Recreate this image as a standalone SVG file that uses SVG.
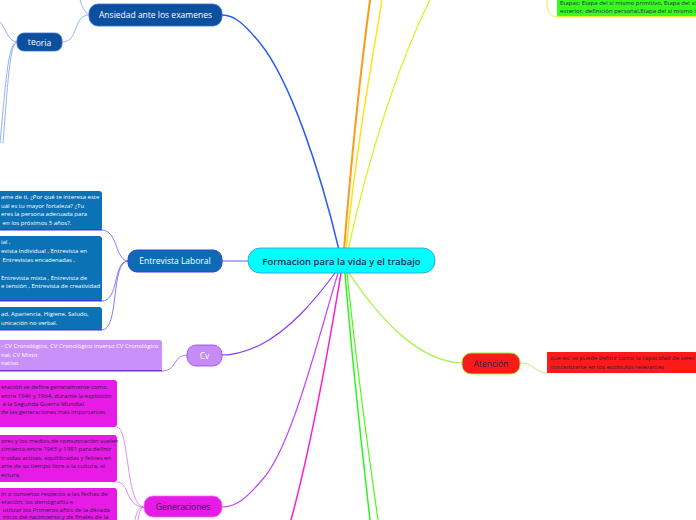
<svg xmlns="http://www.w3.org/2000/svg" width="696" height="520" viewBox="0 0 696 520">
<style>
.t{font-family:"Open Sans","Noto Sans",sans-serif;}
.node{font-size:8.5px;text-anchor:middle;}
.w{fill:#ffffff;}
.d{fill:#2a1f3d;}
.small{font-size:6px;}
.c{fill:none;stroke-linecap:round;}
</style>
<rect width="696" height="520" fill="#ffffff"/>
<g id="connectors" class="c">
  <path d="M344,250 C352,150 362,60 370,0" stroke="#FF9A1A" stroke-width="2"/>
  <path d="M346,250 C356,150 372,60 382,0" stroke="#FFE21A" stroke-width="1.5"/>
  <path d="M348,250 C370,150 400,60 430,0" stroke="#D4F51A" stroke-width="1.2"/>
  <path d="M547,0 C546,10 550,17 557,17" stroke="#E4F040" stroke-width="1"/>
  <path d="M339,250 C320,170 290,80 260,43 C245,25 235,15 222,15" stroke="#2A5CF0" stroke-width="1.5"/>
  <path d="M89,15 C84,12 82,6 80,0" stroke="#7A9CF5" stroke-width="0.8"/>
  <path d="M62,42 C80,42 72,15 89,15" stroke="#7A9CF5" stroke-width="0.8"/>
  <path d="M17,42 C8,42 6,28 0,22" stroke="#7A9CF5" stroke-width="0.8"/>
  <path d="M17,42 C8,42 6,80 0,143" stroke="#7A9CF5" stroke-width="0.8"/>
  <path d="M17,42 C10,42 8,80 3,143" stroke="#7A9CF5" stroke-width="0.8"/>
  <path d="M222,261 L248,261" stroke="#5A5AF5" stroke-width="1"/>
  <path d="M128,261 C115,261 118,230 102,230" stroke="#6A5CFF" stroke-width="0.8"/>
  <path d="M128,261 C112,261 120,301 102,301" stroke="#6A5CFF" stroke-width="0.8"/>
  <path d="M128,261 C110,261 120,330 102,330" stroke="#6A5CFF" stroke-width="0.8"/>
  <path d="M335,273 C315,300 290,330 260,345 C245,352 232,355 222,355" stroke="#8A3CFF" stroke-width="1.2"/>
  <path d="M187,355 C172,355 178,371 162,371" stroke="#A060F0" stroke-width="0.8"/>
  <path d="M338,273 C315,350 290,450 262,480 C245,500 235,507 222,507" stroke="#C645F5" stroke-width="1.2"/>
  <path d="M341,273 C330,340 310,450 291,520" stroke="#FF1ACC" stroke-width="1.5"/>
  <path d="M144,507 C125,507 130,427 117,427" stroke="#E070F0" stroke-width="0.8"/>
  <path d="M144,507 C125,507 130,482 117,482" stroke="#E070F0" stroke-width="0.8"/>
  <path d="M144,507 C138,507 136,514 135,520" stroke="#E070F0" stroke-width="0.8"/>
  <path d="M144,507 C140,507 139,514 138,520" stroke="#E070F0" stroke-width="0.8"/>
  <path d="M345,273 C352,360 362,450 370,520" stroke="#2AF51A" stroke-width="1.5"/>
  <path d="M347,273 C356,360 368,450 378,520" stroke="#55F51A" stroke-width="1.2"/>
  <path d="M349,273 C380,320 420,362 462,363" stroke="#9CF53A" stroke-width="1.2"/>
  <path d="M520,363 C535,363 535,373 547,373" stroke="#B8F070" stroke-width="1"/>
</g>
<g id="central">
  <rect x="248" y="248" width="187" height="25" rx="12" fill="#00FFFF" stroke="#3A8FD0" stroke-width="0.8"/>
  <text x="341.5" y="264.5" class="t" font-size="9.5" font-weight="600" text-anchor="middle" fill="#1F2D4D">Formacion para la vida y el trabajo</text>
</g>
<g id="ansiedad">
  <rect x="89" y="4" width="133" height="22" rx="9" fill="#0B4F9F" stroke="#3A6FE0" stroke-width="0.8"/>
  <text x="155.5" y="18" class="t node w">Ansiedad ante los examenes</text>
</g>
<g id="teoria">
  <rect x="17" y="33" width="45" height="18" rx="7" fill="#0B4F9F" stroke="#3A6FE0" stroke-width="0.8"/>
  <text x="39.5" y="45" class="t node w">te<tspan dy="1">oria</tspan></text>
</g>
<g id="entrevista">
  <rect x="128" y="250" width="94" height="22" rx="9" fill="#0B6CB4" stroke="#3A3AE8" stroke-width="1"/>
  <text x="175" y="264" class="t node w">Entrevista Laboral</text>
</g>
<g id="entrevista-preguntas">
  <rect x="-5" y="191" width="107" height="39" rx="3" fill="#0B72B5"/>
  <rect x="-5" y="229" width="107" height="1.5" fill="#3A3AE8"/>
  <text class="t small w"><tspan x="1" y="199">ame de ti, ¿Por qué te interesa este</tspan><tspan x="1" y="207.5">uál es tu mayor fortaleza? ¿Tu</tspan><tspan x="1" y="216">eres la persona adecuada para</tspan><tspan x="1" y="224.5"> en los próximos 5 años?.</tspan></text>
</g>
<g id="entrevista-tipos">
  <rect x="-5" y="236" width="107" height="65" rx="3" fill="#0B72B5"/>
  <rect x="-5" y="300" width="107" height="1.5" fill="#3A3AE8"/>
  <text class="t small w"><tspan x="1" y="244">ial ,</tspan><tspan x="1" y="253">evista individual , Entrevista en</tspan><tspan x="1" y="261.5"> Entrevistas encadenadas ,</tspan><tspan x="1" y="279.5">Entrevista mixta , Entrevista de</tspan><tspan x="1" y="288">e tensión , Entrevista de creatividad</tspan></text>
</g>
<g id="entrevista-imagen">
  <rect x="-5" y="307" width="107" height="23" rx="3" fill="#0B72B5"/>
  <rect x="-5" y="329" width="107" height="1.5" fill="#3A3AE8"/>
  <text class="t small w"><tspan x="1" y="316">ad, Apariencia, Higiene, Saludo,</tspan><tspan x="1" y="324.5">unicación no verbal.</tspan></text>
</g>
<g id="cv">
  <rect x="187" y="345" width="35" height="21" rx="9" fill="#C68BF5" stroke="#9040FF" stroke-width="0.8"/>
  <text x="204.5" y="358.5" class="t node w">Cv</text>
</g>
<g id="cv-tipos">
  <rect x="-5" y="340" width="167" height="31" rx="3" fill="#C890F8"/>
  <rect x="-5" y="370" width="167" height="1.5" fill="#7A30E0"/>
  <text class="t small w"><tspan x="1" y="348">- CV Cronológico, CV Cronológico inverso CV Cronológico</tspan><tspan x="1" y="356.5">nal,  CV Mixto</tspan><tspan x="1" y="365">nativo</tspan></text>
</g>
<g id="generaciones">
  <rect x="144" y="496" width="78" height="21" rx="9" fill="#E61CE6" stroke="#F070F0" stroke-width="0.8"/>
  <text x="183" y="510" class="t node d">Generaciones</text>
</g>
<g id="gen-boomers">
  <rect x="-5" y="380" width="122" height="47" rx="3" fill="#E61CE6"/>
  <text class="t small d"><tspan x="1" y="389">eración se define generalmente como</tspan><tspan x="1" y="397.5">entre 1946 y 1964, durante la explosión</tspan><tspan x="1" y="405.5"> a la Segunda Guerra Mundial.</tspan><tspan x="1" y="414">de las generaciones más importantes</tspan></text>
</g>
<g id="gen-x">
  <rect x="-5" y="435" width="122" height="47" rx="3" fill="#E61CE6"/>
  <text class="t small d"><tspan x="1" y="443">ores y los medios de comunicación suelen</tspan><tspan x="1" y="451">cimiento entre 1965 y 1981 para definir</tspan><tspan x="1" y="459.5">n vidas activas, equilibradas y felices en</tspan><tspan x="1" y="468">arte de su tiempo libre a la cultura, el</tspan><tspan x="1" y="476.5">ectura.</tspan></text>
</g>
<g id="gen-millennials">
  <rect x="-5" y="488" width="122" height="40" rx="3" fill="#E61CE6"/>
  <text class="t small d"><tspan x="1" y="495.5">in o consenso respecto a las fechas de</tspan><tspan x="1" y="503.5">eración; los demógrafos e</tspan><tspan x="1" y="511.5"> utilizar los Primeros años de la década</tspan><tspan x="1" y="518.5"> inicio del nacimiento y de finales de la</tspan></text>
</g>
<g id="atencion">
  <rect x="462" y="353" width="58" height="21" rx="9" fill="#FF1A1A" stroke="#90EE40" stroke-width="1"/>
  <text x="491" y="366.5" class="t node d">Atención</text>
</g>
<g id="atencion-def">
  <rect x="547" y="352" width="155" height="21" fill="#FF1A1A"/>
  <text class="t small d"><tspan x="550" y="360">que es:  se puede definir como la capacidad de selec</tspan><tspan x="550" y="368.5">concentrarse en los estímulos relevantes</tspan></text>
</g>
<g id="etapas">
  <rect x="557" y="-5" width="145" height="22" rx="3" fill="#33FF1A"/>
  <rect x="557" y="16" width="145" height="1.5" fill="#E4F040"/>
  <text class="t small d"><tspan x="560" y="5">Etapas: Etapa del sí mismo primitivo, Etapa del sí</tspan><tspan x="560" y="13">exterior, definición personal,Etapa del sí mismo i</tspan></text>
</g>
</svg>
